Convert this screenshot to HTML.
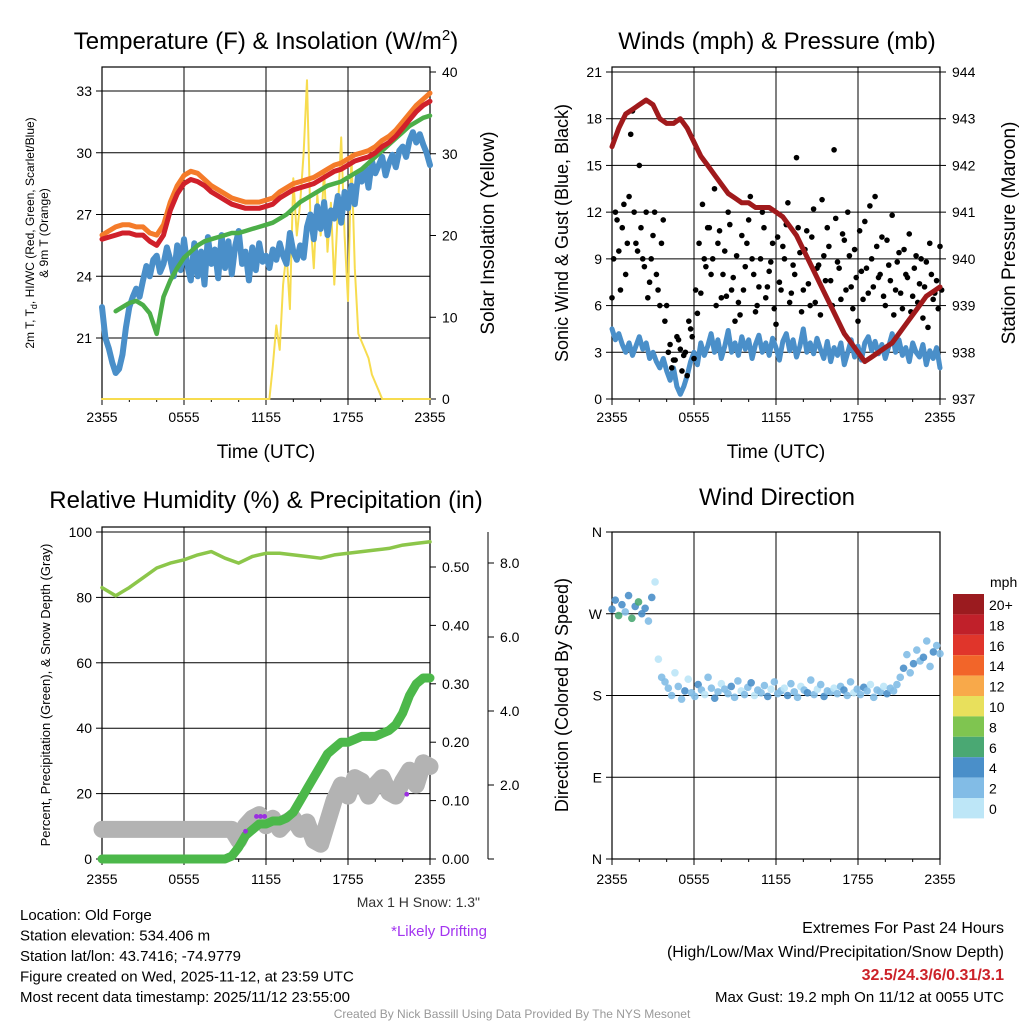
<!DOCTYPE html>
<html><head><meta charset="utf-8">
<style>
html,body{margin:0;padding:0;background:#fff;}
svg{display:block;font-family:"Liberation Sans",sans-serif;}
</style></head>
<body>
<svg id="chart" width="1024" height="1024" viewBox="0 0 1024 1024">
<rect width="1024" height="1024" fill="#fff"/>
<g id="static"></g>
<g id="marks"></g>
</svg>
<script>
// ---------- DATA ----------
const timeTicks = ["2355","0555","1155","1755","2355"];
const tempTicks = [21,24,27,30,33];
const solarTicks = [0,10,20,30,40];
const windTicks = [0,3,6,9,12,15,18,21];
const presTicks = [937,938,939,940,941,942,943,944];
const rhTicks = [0,20,40,60,80,100];
const precipTicks = [0,0.1,0.2,0.3,0.4,0.5];
const snowTicks = [2,4,6,8];
const dirTicks = ["N","E","S","W","N"];
const speedLabels = ["20+","18","16","14","12","10","8","6","4","2","0"];
const speedColors = ["#9b1b1f","#c0202a","#e0352b","#f26529","#f8a94a","#e8e05c","#7fc550","#4aa873","#4a8fc9","#82bce6","#bde6f7"];

const tempRed = [25.8,25.9,26.0,26.1,26.1,26.0,26.0,25.7,25.5,26.0,27.2,28.0,28.5,28.7,28.6,28.4,28.1,27.9,27.7,27.5,27.4,27.3,27.3,27.3,27.4,27.5,27.8,28.0,28.2,28.3,28.4,28.5,28.7,28.9,29.1,29.2,29.4,29.6,29.7,29.8,30.0,30.3,30.5,30.8,31.2,31.6,32.0,32.3,32.5];
const temp9m = [26.0,26.2,26.4,26.5,26.5,26.4,26.4,26.1,26.0,26.5,27.6,28.4,28.9,29.1,29.0,28.7,28.4,28.2,28.0,27.8,27.7,27.6,27.6,27.6,27.7,27.8,28.1,28.3,28.5,28.6,28.7,28.8,29.0,29.2,29.4,29.5,29.7,29.9,30.0,30.1,30.3,30.6,30.8,31.1,31.5,31.9,32.3,32.6,32.9];
const dewGreen = [null,null,22.3,22.5,22.7,22.8,22.6,22.2,21.2,23.0,23.8,24.4,24.9,25.2,25.5,25.7,25.8,25.9,26.0,26.1,26.1,26.2,26.3,26.4,26.5,26.6,26.8,27.0,27.3,27.6,27.8,28.0,28.2,28.4,28.5,28.6,28.8,29.0,29.2,29.5,29.8,30.1,30.4,30.7,31.0,31.3,31.5,31.7,31.8];
const wcBlue = [22.5,21.0,20.5,19.8,19.3,19.5,20.2,21.5,22.5,23.0,23.4,23.0,23.8,24.5,24.0,24.8,25.0,24.2,24.6,25.4,24.8,24.0,25.5,24.3,25.8,24.5,23.8,25.6,24.0,25.2,23.6,25.9,24.6,25.3,23.9,26.0,24.4,25.7,24.1,25.5,26.2,24.6,25.2,23.8,25.4,24.3,25.6,24.7,25.0,24.4,25.3,24.8,25.6,25.0,24.6,26.1,25.2,24.8,25.5,24.9,26.4,27.0,25.8,27.4,26.3,27.6,26.0,27.2,26.8,27.9,26.6,28.1,27.3,28.4,27.5,29.0,28.6,29.3,28.3,29.6,29.0,29.4,29.8,28.9,29.5,29.9,29.3,30.1,30.3,29.8,30.6,31.0,30.5,30.9,30.4,30.0,29.4];
const solar = [0,0,0,0,0,0,0,0,0,0,0,0,0,0,0,0,0,0,0,0,0,0,0,0,0,0,0,0,0,0,0,0,0,0,0,0,0,0,0,0,0,0,0,0,0,0,0,0,0,
0,4,9,6,14,18,11,27,20,24,30,39,22,16,25,20,28,18,24,14,23,32,20,12,30,16,8,7,6,5,3,2,1,0,0,0,0,0,0,0,0,0,0,0,0,0,0,0];

const pressure = [942.4,942.8,943.1,943.2,943.3,943.4,943.3,943.0,942.9,942.9,943.0,942.8,942.5,942.2,942.0,941.8,941.6,941.4,941.3,941.2,941.2,941.1,941.1,941.1,941.0,940.9,940.7,940.5,940.2,939.9,939.6,939.3,939.0,938.7,938.4,938.2,938.0,937.8,937.9,938.0,938.1,938.2,938.4,938.6,938.8,939.0,939.2,939.3,939.4];
const sonicWind = [4.5,3.8,4.2,3.5,3.0,3.6,2.8,3.4,4.0,3.2,3.6,2.6,3.0,2.4,2.0,2.6,1.8,1.2,2.0,0.8,0.3,0.8,1.5,2.4,3.0,2.2,3.6,2.8,3.4,4.2,3.0,3.8,2.6,3.4,4.4,3.0,3.6,2.8,4.0,3.2,3.8,2.6,3.5,4.1,3.0,3.6,2.8,3.9,3.3,2.5,3.7,4.2,3.1,3.8,2.7,3.4,4.5,3.0,3.6,2.9,3.9,3.2,2.6,3.7,2.4,3.3,2.8,3.6,2.2,3.0,3.8,2.7,3.4,2.5,3.6,4.0,3.1,3.7,2.9,3.5,2.6,3.4,4.2,3.0,3.8,2.8,3.3,2.4,3.6,3.0,2.7,3.5,2.2,3.1,2.6,3.3,2.0];
const gusts = [6.5,12,9.5,11,8,13,18.5,10,15,9,12,7.5,10.5,8,6,11.5,6,3.5,2.5,4,3.2,2.8,1.5,4.5,2.6,5.5,6.8,9,11,8,13.5,10,6.5,9.5,12,7,5,6.2,10.5,8.5,11.5,9,5.6,7.2,12,6.5,8.2,10,4.8,7.5,9.8,11.2,6.2,8.6,15.5,9.4,7,10.8,6,12.2,8.4,5.4,9.2,11,7.6,16,8.8,6.4,10.2,12,7.2,9.6,5,8.2,11.4,6.8,9,13,7.8,10.4,6,8.6,11.8,7,9.4,5.8,8,10.6,6.6,9.2,7.4,5.2,8.8,10,6.4,7.6,9.8];
const gusts2 = [9,11.5,7,12.5,10,17,12,9.5,11,8.5,6.5,9,12,7,10,5,3,2,2.5,3.8,1.8,3,5,4,7,10,12.5,8.5,11,9,6,10.8,8,6.6,11.2,7.8,9.2,5.4,7,10,13,8,6,9,11,7.2,8.8,5.8,10.4,7,9,12.6,6.8,8,11,5.6,9.6,7.4,10.4,6.2,8.6,12.8,7.6,9.8,6,11.6,8.4,10.6,7,9.2,5.8,7.8,10.8,6.4,8.4,12.4,7.2,9.8,8,6.6,10.2,7.6,5.4,8.8,6.8,9.6,7.8,5.6,8.4,6.2,9,7.2,4.6,8,6.8,5.8,7];

const rh = [83,80.5,83,86,89,90.5,91.5,93,94,92,90.5,92.5,93.5,93.5,93,92.5,92,93,93.5,94,94.5,95,96,96.5,97];
const precip = [0,0,0,0,0,0,0,0,0,0,0,0,0,0,0,0,0,0,0,0.005,0.02,0.04,0.05,0.06,0.06,0.065,0.065,0.07,0.08,0.10,0.12,0.14,0.16,0.18,0.19,0.2,0.2,0.205,0.21,0.21,0.21,0.215,0.22,0.23,0.25,0.28,0.30,0.31,0.31];
const snow = [0.8,0.8,0.8,0.8,0.8,0.8,0.8,0.8,0.8,0.8,0.8,0.8,0.8,0.8,0.8,0.8,0.8,0.8,0.8,0.8,0.5,0.9,1.1,1.2,0.9,1.1,0.8,1.0,1.1,0.8,1.0,0.5,0.4,1.0,1.6,2.0,1.7,2.2,2.1,1.7,2.0,2.2,1.8,1.7,2.1,2.4,2.0,2.6,2.5];
const driftTimes = [10.5,11.3,11.6,11.9,22.3];
const driftSnow = [0.75,1.15,1.15,1.15,1.75];

const windDir = [275,285,268,280,272,290,265,278,283,270,
276,262,288,305,220,200,195,188,180,205,
190,176,185,198,183,179,192,186,181,200,
188,177,184,193,187,182,190,178,196,185,
181,189,194,180,186,183,191,179,187,195,
182,185,188,180,193,184,178,190,186,183,
197,181,187,192,179,185,184,188,182,190,
186,180,195,183,187,181,189,185,192,178,
186,184,190,182,188,185,192,200,210,225,
205,215,230,218,222,240,212,228,235,226];
const windSpd = [5,4,6,5,3,5,7,4,6,5,
4,3,5,1,1,2,2,3,2,1,
3,2,4,1,3,2,4,3,1,2,
3,4,2,1,3,2,4,3,2,1,
2,3,4,1,2,3,2,4,1,3,
2,3,1,4,2,3,2,1,3,4,
2,3,1,2,4,3,2,1,3,2,
4,2,3,1,2,3,4,2,1,3,
2,3,1,4,2,3,2,3,4,2,
3,4,2,3,4,3,2,4,3,3];

// ---------- HELPERS ----------
const NS="http://www.w3.org/2000/svg";
const S=document.getElementById('static'), M=document.getElementById('marks');
function mk(tag,attrs,parent,txt){const e=document.createElementNS(NS,tag);for(const k in attrs)e.setAttribute(k,attrs[k]);if(txt!==undefined)e.textContent=txt;(parent||S).appendChild(e);return e;}
function lin(d0,d1,r0,r1){return v=>r0+(v-d0)*(r1-r0)/(d1-d0);}
function pathFrom(xs,ys){let d="",pen=false;for(let i=0;i<xs.length;i++){if(ys[i]===null||ys[i]===undefined||isNaN(ys[i])){pen=false;continue;}d+=(pen?"L":"M")+xs[i].toFixed(1)+","+ys[i].toFixed(1);pen=true;}return d;}
function tIdx(n){return i=>i*24/(n-1);}

const P1={x0:102,x1:430,y0:67,y1:399}, P2={x0:612,x1:940,y0:67,y1:399}, P3={x0:102,x1:430,y0:527,y1:859}, P4={x0:612,x1:940,y0:532,y1:859};
const tx1=lin(0,24,P1.x0,P1.x1), tx2=lin(0,24,P2.x0,P2.x1);
const yT=lin(21,33,338,91), yS=lin(0,40,399,72);
const yW=lin(0,21,399,72), yP=lin(937,944,399,72);
const yRH=lin(0,100,859,532), yPr=lin(0,0.5,859,567), ySn=lin(0,8,859,563);
const yD=lin(0,360,859,532);

function grid(P,xs,ys,name){
  const g=mk('g',{});
  xs.forEach(x=>mk('line',{x1:x,x2:x,y1:P.y0,y2:P.y1,stroke:'#000','stroke-width':1},g));
  ys.forEach(y=>mk('line',{x1:P.x0,x2:P.x1,y1:y,y2:y,stroke:'#000','stroke-width':1},g));
}
function frame(P,name){mk('rect',{x:P.x0,y:P.y0,width:P.x1-P.x0,height:P.y1-P.y0,fill:'none',stroke:'#000','stroke-width':1.2,});}
function xAxis(P,tx,name,title,off){
  const g=mk('g',{});
  timeTicks.forEach((l,i)=>{const x=tx(i*6);mk('line',{x1:x,x2:x,y1:P.y1,y2:P.y1+6,stroke:'#000'},g);mk('text',{x:x,y:P.y1+off,'font-size':14,'text-anchor':'middle'},g,l);});
  for(let h=0;h<=24;h+=2){if(h%6){const x=tx(h);mk('line',{x1:x,x2:x,y1:P.y1,y2:P.y1+3,stroke:'#000'},g);}}
  if(title)mk('text',{x:(P.x0+P.x1)/2,y:P.y1+59,'font-size':19,'text-anchor':'middle',},S,title);
}
function yAxisLeft(P,vals,fy,fmt,name){const g=mk('g',{});vals.forEach(v=>{const y=fy(v);mk('line',{x1:P.x0-6,x2:P.x0,y1:y,y2:y,stroke:'#000'},g);mk('text',{x:P.x0-10,y:y+5,'font-size':14,'text-anchor':'end'},g,fmt(v));});}
function yAxisRight(P,x,vals,fy,fmt,name){const g=mk('g',{});vals.forEach(v=>{const y=fy(v);mk('line',{x1:x,x2:x+6,y1:y,y2:y,stroke:'#000'},g);mk('text',{x:x+12,y:y+5,'font-size':14,'text-anchor':'start'},g,fmt(v));});}
function vtitle(x,y,t,size,name){mk('text',{x:x,y:y,'font-size':size,'text-anchor':'middle',transform:`rotate(-90 ${x} ${y})`,},S,t);}
const tg=[0,6,12,18,24];

function line(arr,fx,fy,color,w,name){
  const tf=tIdx(arr.length);
  const xs=arr.map((v,i)=>fx(tf(i))), ys=arr.map(v=>v===null?null:fy(v));
  const p=mk('path',{d:pathFrom(xs,ys),fill:'none',stroke:color,'stroke-width':w,'stroke-linejoin':'round','stroke-linecap':'round'},M);
  
  
  return p;
}
function dots(arr,fx,fy,name,off){
  const tf=tIdx(arr.length);
  arr.forEach((v,i)=>{const c=mk('circle',{cx:fx(tf(i)+off),cy:fy(v),r:2.8,fill:'#000'},M);
  
  });
}

// ---------- PANEL 1 ----------
mk('text',{x:266,y:49,'font-size':24,'text-anchor':'middle',},S).innerHTML='Temperature (F) &amp; Insolation (W/m<tspan dy="-9" font-size="15">2</tspan><tspan dy="9">)</tspan>';
grid(P1,tg.map(tx1),tempTicks.map(yT),'temperature');
xAxis(P1,tx1,'temperature','Time (UTC)',23);
yAxisLeft(P1,tempTicks,yT,v=>v,'temperature-y-axis');
yAxisRight(P1,P1.x1,solarTicks,yS,v=>v,'solar-y-axis');
{const t=mk('text',{x:0,y:0,'font-size':12,'text-anchor':'middle',transform:'translate(40,233) rotate(-90)',});
t.innerHTML='<tspan x="0" dy="-6">2m T, T<tspan font-size="9" dy="3">d</tspan><tspan dy="-3">, HI/WC (Red, Green, Scarlet/Blue)</tspan></tspan><tspan x="0" dy="14">&amp; 9m T (Orange)</tspan>';}
vtitle(494,233,'Solar Insolation (Yellow)',19,'solar-y-axis-title');

line(solar,tx1,yS,'#f7dc4f',2,'solar-insolation-line');
line(wcBlue,tx1,yT,'#4a8fc9',6,'windchill-line');
line(dewGreen,tx1,yT,'#4cae48',4.5,'dewpoint-line');
line(temp9m,tx1,yT,'#f47b2a',5,'temp-9m-line');
line(tempRed,tx1,yT,'#d0202a',5,'temp-2m-line');
frame(P1,'temperature');

// ---------- PANEL 2 ----------
mk('text',{x:777,y:49,'font-size':24,'text-anchor':'middle',},S,'Winds (mph) & Pressure (mb)');
grid(P2,tg.map(tx2),windTicks.map(yW),'winds');
xAxis(P2,tx2,'winds','Time (UTC)',23);
yAxisLeft(P2,windTicks,yW,v=>v,'wind-y-axis');
yAxisRight(P2,P2.x1,presTicks,yP,v=>v,'pressure-y-axis');
vtitle(568,233,'Sonic Wind & Gust (Blue, Black)',18,'wind-y-axis-title');
vtitle(1015,233,'Station Pressure (Maroon)',19,'pressure-y-axis-title');
line(sonicWind,tx2,yW,'#4a8fc9',5,'sonic-wind-line');
dots(gusts,tx2,yW,'gust-point',0);
dots(gusts2,tx2,yW,'gust-point',0.12);
line(pressure,tx2,yP,'#a01a1c',5,'pressure-line');
frame(P2,'winds');

// ---------- PANEL 3 ----------
mk('text',{x:266,y:508,'font-size':24,'text-anchor':'middle',},S,'Relative Humidity (%) & Precipitation (in)');
grid(P3,tg.map(tx1),rhTicks.map(yRH),'humidity');
xAxis(P3,tx1,'humidity',null,25);
yAxisLeft(P3,rhTicks,yRH,v=>v,'rh-y-axis');
yAxisRight(P3,P3.x1,precipTicks,yPr,v=>v.toFixed(2),'precip-y-axis');
mk('line',{x1:488,x2:488,y1:532,y2:859,stroke:'#000',});
yAxisRight({},488,snowTicks,ySn,v=>v.toFixed(1),'snow-y-axis');
mk('line',{x1:488,x2:494,y1:859,y2:859,stroke:'#000'});
vtitle(50,695,'Percent, Precipitation (Green), & Snow Depth (Gray)',13,'rh-y-axis-title');
line(snow,tx1,ySn,'#b3b3b3',17,'snow-depth-line');
line(rh,tx1,yRH,'#8cc64a',3.5,'rh-line');
line(precip,tx1,yPr,'#4cb84a',9,'precip-line');
driftTimes.forEach((t,i)=>{const c=mk('circle',{cx:tx1(t),cy:ySn(driftSnow[i]),r:2.4,fill:'#9b30e0'},M);

});
frame(P3,'humidity');
mk('text',{x:480,y:907,'font-size':14,'text-anchor':'end',fill:'#333',},S,'Max 1 H Snow: 1.3"');
mk('text',{x:487,y:936,'font-size':15,'text-anchor':'end',fill:'#a335f0',},S,'*Likely Drifting');

// ---------- PANEL 4 ----------
mk('text',{x:777,y:505,'font-size':24,'text-anchor':'middle',},S,'Wind Direction');
grid(P4,tg.map(tx2),[0,90,180,270,360].map(yD),'direction');
xAxis(P4,tx2,'direction',null,25);
yAxisLeft(P4,[0,90,180,270,360],yD,v=>dirTicks[v/90],'direction-y-axis');
vtitle(568,695,'Direction (Colored By Speed)',18,'direction-y-axis-title');
{const tf=tIdx(windDir.length);windDir.forEach((d,i)=>{const b=Math.min(10,Math.floor(windSpd[i]/2));const c=mk('circle',{cx:tx2(tf(i)),cy:yD(d),r:3.8,fill:speedColors[10-b],'fill-opacity':0.9},M);

});}
frame(P4,'direction');
{const g=mk('g',{});
mk('text',{x:990,y:587,'font-size':14,'text-anchor':'start'},g,'mph');
speedLabels.forEach((l,i)=>{const y=594+i*20.4;mk('rect',{x:953,y:y,width:31,height:20.4,fill:speedColors[i]},g);mk('text',{x:989,y:y+16,'font-size':14},g,l);});}

// ---------- FOOTER ----------
{const g=mk('g',{});
["Location: Old Forge","Station elevation: 534.406 m","Station lat/lon: 43.7416; -74.9779","Figure created on Wed, 2025-11-12, at 23:59 UTC","Most recent data timestamp: 2025/11/12 23:55:00"].forEach((t,i)=>mk('text',{x:20,y:920+i*20.5,'font-size':15},g,t));}
{const g=mk('g',{});
mk('text',{x:1004,y:933,'font-size':16,'text-anchor':'end'},g,'Extremes For Past 24 Hours');
mk('text',{x:1004,y:957,'font-size':16,'text-anchor':'end'},g,'(High/Low/Max Wind/Precipitation/Snow Depth)');
mk('text',{x:1004,y:980,'font-size':16,'text-anchor':'end',fill:'#cc2229','font-weight':'bold'},g,'32.5/24.3/6/0.31/3.1');
mk('text',{x:1004,y:1002,'font-size':15,'text-anchor':'end'},g,'Max Gust: 19.2 mph On 11/12 at 0055 UTC');}
mk('text',{x:512,y:1018,'font-size':12,'text-anchor':'middle',fill:'#999',},S,'Created By Nick Bassill Using Data Provided By The NYS Mesonet');
</script>
</body></html>
